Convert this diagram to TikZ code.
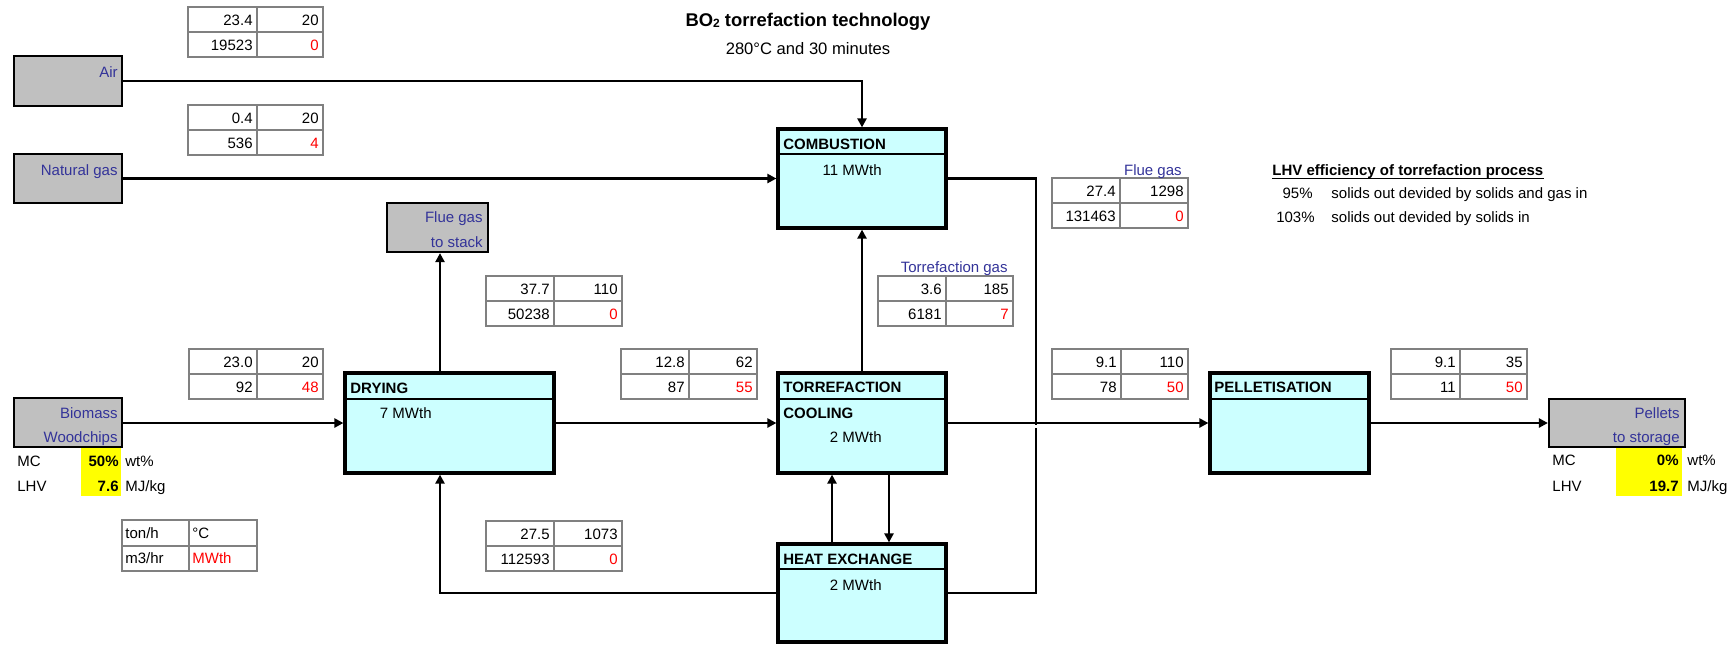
\documentclass[tikz,border=0pt]{standalone}
\usepackage{fontspec}
\setmainfont{Liberation Sans}
\usetikzlibrary{arrows.meta,fit}
\definecolor{cyanfill}{HTML}{CCFFFF}
\definecolor{boxgray}{HTML}{C0C0C0}
\definecolor{tabgray}{HTML}{808080}
\definecolor{lblue}{HTML}{333399}
\definecolor{hlyellow}{HTML}{FFFF00}
\definecolor{numred}{HTML}{FF0000}
\tikzset{
  every node/.style={inner sep=0pt, font=\fontsize{7.5}{9}\selectfont},
  procbox/.style={draw=black, fill=cyanfill, line width=1.6pt, inner sep=0pt},
  srcbox/.style={draw=black, fill=boxgray, line width=1.1pt, inner sep=0pt},
  tabframe/.style={draw=tabgray, fill=white, line width=1.4pt, inner sep=0pt},
  tabline/.style={draw=tabgray, line width=1.3pt},
  hdrline/.style={draw=black, line width=0.8pt},
  flow/.style={draw=black, line width=1.3pt, -{Triangle[length=4.5pt,width=4.5pt]}},
  pipe/.style={draw=black, line width=1.3pt},
  lbl/.style={text=lblue},
  hdr/.style={font=\fontsize{7.5}{9}\selectfont\bfseries},
  rednum/.style={text=numred},
}
% name, xl, xm, xr, ytop, a, b, c, d
\newcommand{\mktab}[9]{%
  \node[tabframe, fit={(#2,#5) (#4,#5+50)}] (#1) {};
  \draw[tabline] (#2,#5+25) -- (#4,#5+25);
  \draw[tabline] (#3,#5) -- (#3,#5+50);
  \node[anchor=base east] (#1a) at (#3-4,#5+18) {#6};
  \node[anchor=base east] (#1b) at (#4-4,#5+18) {#7};
  \node[anchor=base east] (#1c) at (#3-4,#5+43) {#8};
  \node[anchor=base east, rednum] (#1d) at (#4-4,#5+43) {#9};
}
% name, xl, yt, xr, yb, header y
\newcommand{\mkproc}[6]{%
  \node[procbox, fit={(#2,#3) (#4,#5)}] (#1) {};
  \draw[hdrline] (#2,#6) -- (#4,#6);
}
\begin{document}
\begin{tikzpicture}[x=0.5pt,y=-0.5pt]
\useasboundingbox (0,0) rectangle (1733,644);

% title
\node[anchor=base, font=\fontsize{9.2}{11}\selectfont\bfseries] (title) at (808,26)
  {BO{\fontsize{6}{6}\selectfont\raisebox{-0.6pt}{2}} torrefaction technology};
\node[anchor=base, font=\fontsize{8.3}{10}\selectfont] (subtitle) at (808,54) {280°C and 30 minutes};

% yellow highlights
\fill[hlyellow] (81,447) rectangle (121,496);
\fill[hlyellow] (1616,446) rectangle (1682,496);

% source / sink boxes
\node[srcbox, fit={(14,56) (122,106)}] (air) {};
\node[anchor=base east, lbl] (airl) at (118,77) {Air};
\node[srcbox, fit={(14,154) (122,203)}] (ng) {};
\node[anchor=base east, lbl] (ngl) at (118,175) {Natural gas};
\node[srcbox, fit={(387,203) (488,252)}] (flue) {};
\node[anchor=base east, lbl] (fluel1) at (483,222) {Flue gas};
\node[anchor=base east, lbl] (fluel2) at (483,247) {to stack};
\node[srcbox, fit={(14,398) (122,447)}] (bio) {};
\node[anchor=base east, lbl] (biol1) at (118,418) {Biomass};
\node[anchor=base east, lbl] (biol2) at (118,442) {Woodchips};
\node[srcbox, fit={(1549,399) (1685,447)}] (pst) {};
\node[anchor=base east, lbl] (pstl1) at (1680,418) {Pellets};
\node[anchor=base east, lbl] (pstl2) at (1680,442) {to storage};

% properties
\node[anchor=base west] (mcl) at (17,466) {MC};
\node[anchor=base east, font=\fontsize{7.5}{9}\selectfont\bfseries] (mcv) at (119,466) {50\%};
\node[anchor=base west] (mcu) at (125,466) {wt\%};
\node[anchor=base west] (lhvl) at (17,491) {LHV};
\node[anchor=base east, font=\fontsize{7.5}{9}\selectfont\bfseries] (lhvv) at (119,491) {7.6};
\node[anchor=base west] (lhvu) at (125,491) {MJ/kg};
\node[anchor=base west] (mcl2) at (1552,465) {MC};
\node[anchor=base east, font=\fontsize{7.5}{9}\selectfont\bfseries] (mcv2) at (1679,465) {0\%};
\node[anchor=base west] (mcu2) at (1687,465) {wt\%};
\node[anchor=base west] (lhvl2) at (1552,491) {LHV};
\node[anchor=base east, font=\fontsize{7.5}{9}\selectfont\bfseries] (lhvv2) at (1679,491) {19.7};
\node[anchor=base west] (lhvu2) at (1687,491) {MJ/kg};

% legend table
\node[tabframe, fit={(122,520) (257,571)}] (tleg) {};
\draw[tabline] (122,546) -- (257,546);
\draw[tabline] (189,520) -- (189,571);
\node[anchor=base west] (lega) at (125,538) {ton/h};
\node[anchor=base west] (legb) at (192,538) {°C};
\node[anchor=base west] (legc) at (125,563) {m3/hr};
\node[anchor=base west, rednum] (legd) at (192,563) {MWth};

% data tables
\mktab{tair}{188}{257}{323}{7}{23.4}{20}{19523}{0}
\mktab{tng}{188}{257}{323}{105}{0.4}{20}{536}{4}
\mktab{tbio}{189}{257}{323}{349}{23.0}{20}{92}{48}
\mktab{tstack}{486}{554}{622}{276}{37.7}{110}{50238}{0}
\mktab{tdry}{621}{689}{757}{349}{12.8}{62}{87}{55}
\mktab{thx}{486}{554}{622}{521}{27.5}{1073}{112593}{0}
\mktab{ttg}{878}{946}{1013}{276}{3.6}{185}{6181}{7}
\mktab{tfg}{1052}{1120}{1188}{178}{27.4}{1298}{131463}{0}
\mktab{ttor}{1052}{1121}{1188}{349}{9.1}{110}{78}{50}
\mktab{tpel}{1391}{1460}{1527}{349}{9.1}{35}{11}{50}
\node[anchor=base east, lbl] (tgl) at (1008,272) {Torrefaction gas};
\node[anchor=base east, lbl] (fgl) at (1182,175) {Flue gas};

% efficiency note
\node[anchor=base west, hdr] (lhvt) at (1272,175) {LHV efficiency of torrefaction process};
\draw[line width=0.6pt] ([yshift=-1.6pt]lhvt.base west) -- ([yshift=-1.6pt]lhvt.base east);
\node[anchor=base east] (eff1) at (1313,198) {95\%};
\node[anchor=base west] (eff1t) at (1331,198) {solids out devided by solids and gas in};
\node[anchor=base east] (eff2) at (1315,222) {103\%};
\node[anchor=base west] (eff2t) at (1331,222) {solids out devided by solids in};

% process boxes
\mkproc{comb}{778}{129}{946}{228}{154}
\node[anchor=base west, hdr] (combt) at (783,149) {COMBUSTION};
\node[anchor=base east] (combp) at (882,175) {11 MWth};
\mkproc{dry}{345}{373}{554}{473}{399}
\node[anchor=base west, hdr] (dryt) at (350,393) {DRYING};
\node[anchor=base east] (dryp) at (432,418) {7 MWth};
\mkproc{torr}{778}{373}{946}{473}{399}
\node[anchor=base west, hdr] (torrt) at (783,392) {TORREFACTION};
\node[anchor=base west, hdr] (torrc) at (783,418) {COOLING};
\node[anchor=base east] (torrp) at (882,442) {2 MWth};
\mkproc{hx}{778}{544}{946}{642}{569}
\node[anchor=base west, hdr] (hxt) at (783,564) {HEAT EXCHANGE};
\node[anchor=base east] (hxp) at (882,590) {2 MWth};
\mkproc{pel}{1210}{373}{1369}{473}{399}
\node[anchor=base west, hdr] (pelt) at (1214,392) {PELLETISATION};

% connectors
\coordinate (fgx) at (1036,0);
\coordinate (riser) at (440,0);
\draw[flow] (air.east) -| (comb.north);
\draw[flow] (ng.east) -- (comb.west |- ng.east);
\draw[pipe] (comb.east) -| (fgx |- hx.east) -- (hx.east);
\draw[flow] (riser |- dry.north) -- (riser |- flue.south);
\draw[flow] (hx.west) -| (riser |- dry.south);
\draw[flow] (bio.east |- dry.west) -- (dry.west);
\draw[flow] (dry.east) -- (torr.west);
\draw[flow] (torr.north) -- (comb.south);
\draw[flow] ([xshift=-15pt]hx.north) -- ([xshift=-15pt]torr.south);
\draw[flow] ([xshift=13.5pt]torr.south) -- ([xshift=13.5pt]hx.north);
\draw[white, line width=2pt] (1036,425) -- (1036,427.5);
\draw[flow] (torr.east) -- (pel.west);
\draw[flow] (pel.east) -- (pst.west |- pel.east);
\end{tikzpicture}
\end{document}
